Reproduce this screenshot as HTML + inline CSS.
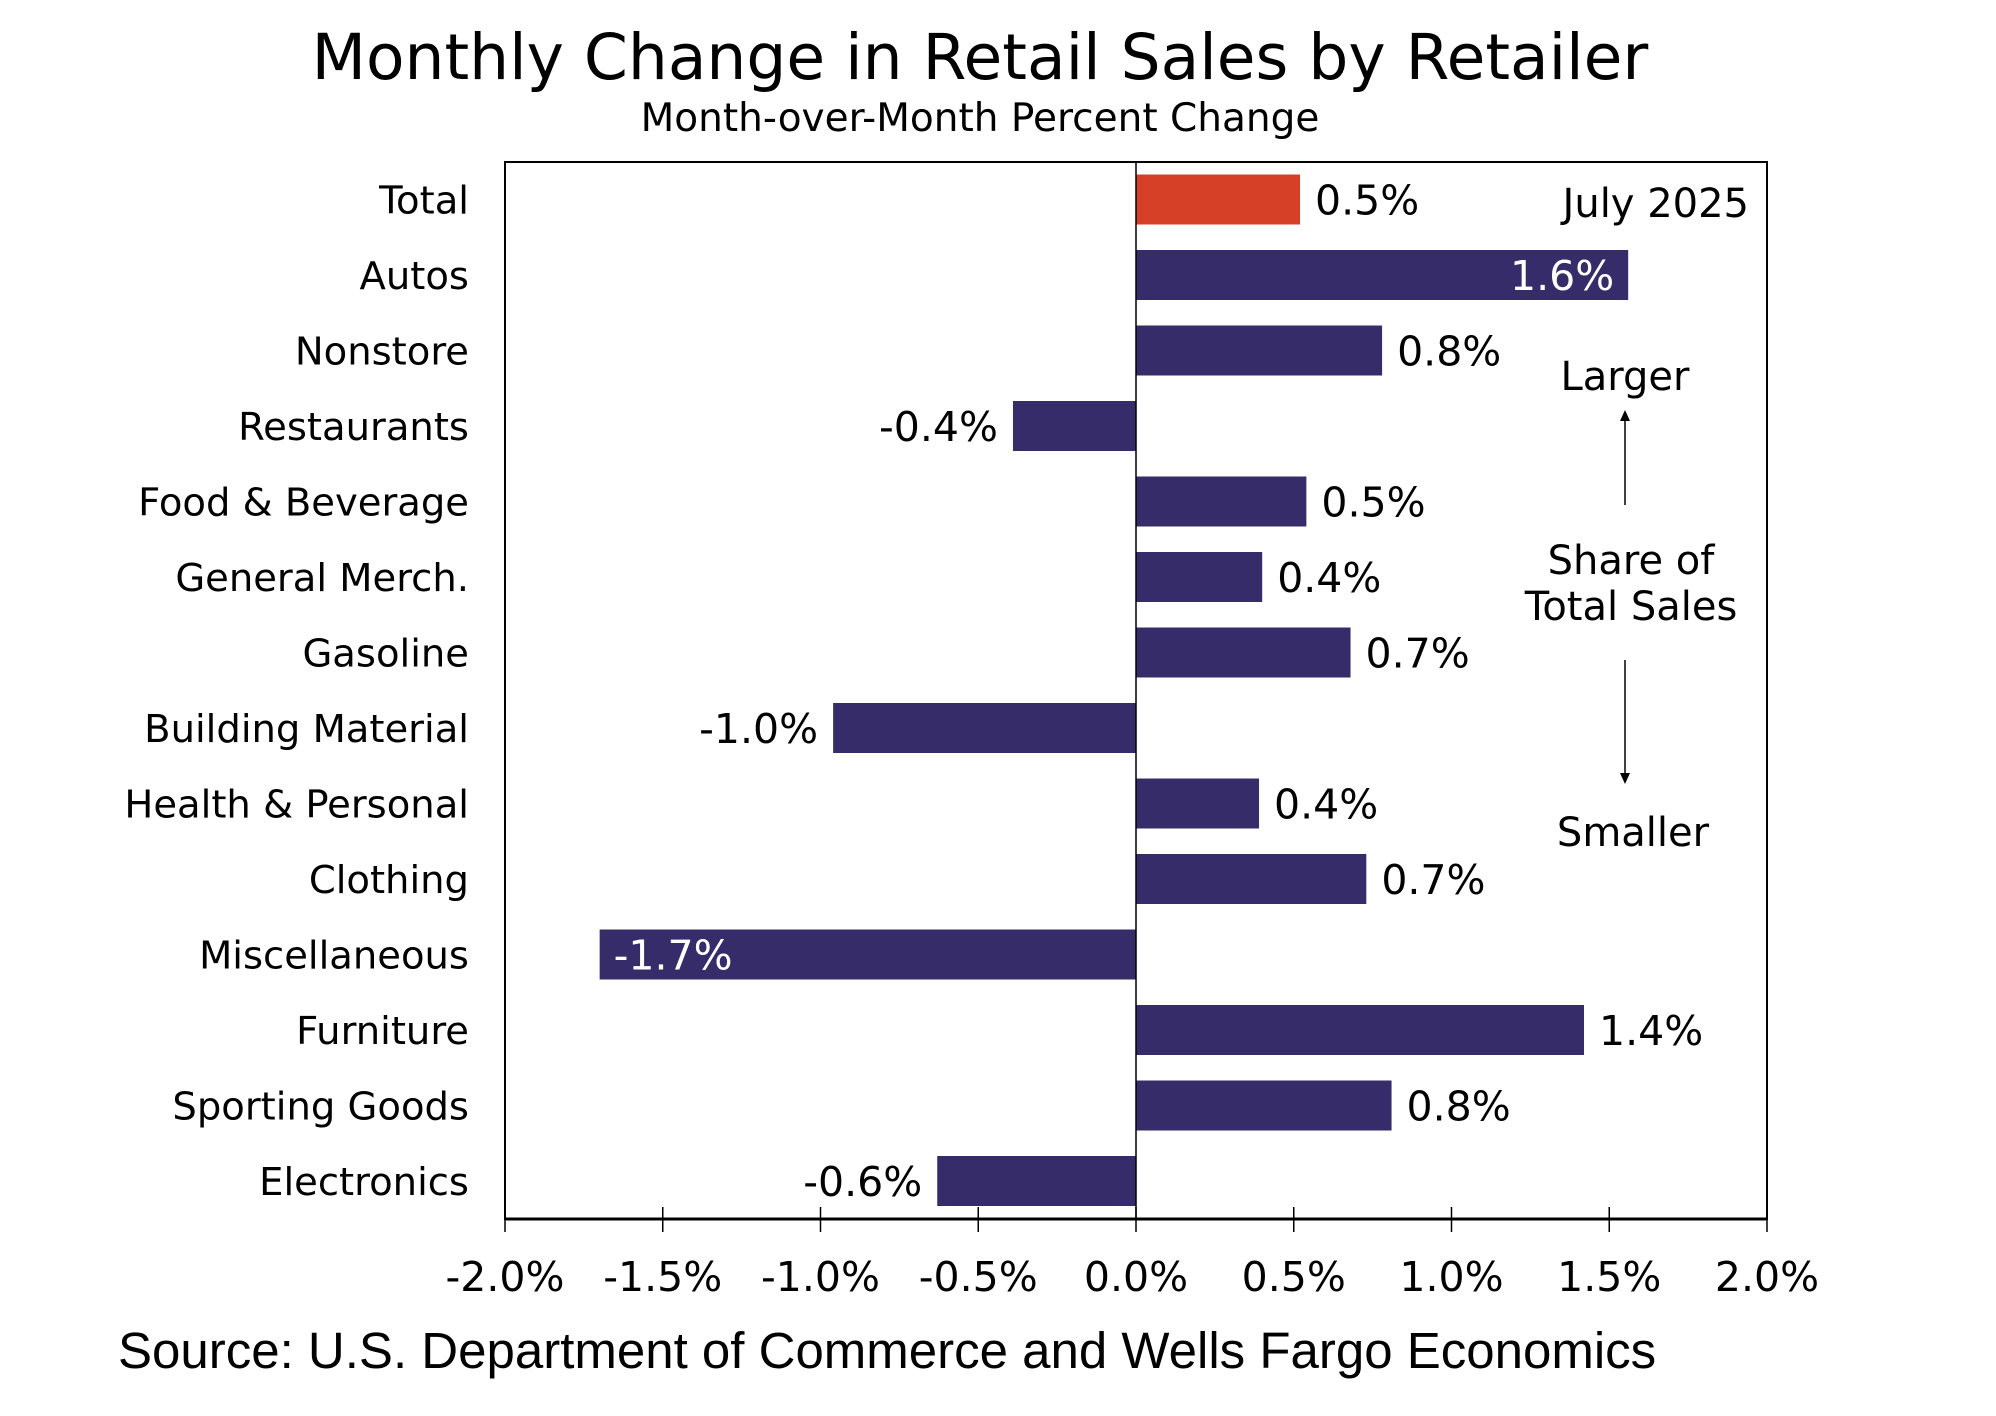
<!DOCTYPE html>
<html><head><meta charset="utf-8"><style>
html,body{margin:0;padding:0;background:#fff;}
svg{display:block;font-family:"DejaVu Sans","Liberation Sans",sans-serif;}
</style></head><body>
<svg id="chart" width="1996" height="1416" viewBox="0 0 1996 1416">
<text x="980" y="79" font-size="63" text-anchor="middle" fill="#000">Monthly Change in Retail Sales by Retailer</text>
<text x="980" y="131" font-size="39" text-anchor="middle" fill="#000">Month-over-Month Percent Change</text>
<rect x="505" y="162" width="1262" height="1057" fill="none" stroke="#000" stroke-width="2"/>
<g id="bars"></g>
<g id="axis"></g>
<text x="1749" y="217" font-size="40" text-anchor="end">July 2025</text>
<text x="1625" y="390" font-size="40" text-anchor="middle">Larger</text>
<line x1="1625" y1="505" x2="1625" y2="418" stroke="#000" stroke-width="1.5"/>
<polygon points="1625,410 1620,421 1630,421" fill="#000"/>
<text x="1631" y="574" font-size="40" text-anchor="middle">Share of</text>
<text x="1631" y="620" font-size="40" text-anchor="middle">Total Sales</text>
<line x1="1625" y1="660" x2="1625" y2="776" stroke="#000" stroke-width="1.5"/>
<polygon points="1625,784 1620,773 1630,773" fill="#000"/>
<text x="1633" y="846" font-size="40" text-anchor="middle">Smaller</text>
<text x="118" y="1368" font-size="51" font-family="Liberation Sans, sans-serif">Source: U.S. Department of Commerce and Wells Fargo Economics</text>
</svg>
<script>
const categories = ["Total","Autos","Nonstore","Restaurants","Food & Beverage","General Merch.","Gasoline","Building Material","Health & Personal","Clothing","Miscellaneous","Furniture","Sporting Goods","Electronics"];
const values = [0.52,1.56,0.78,-0.39,0.54,0.40,0.68,-0.96,0.39,0.73,-1.70,1.42,0.81,-0.63];
const valueLabels = ["0.5%","1.6%","0.8%","-0.4%","0.5%","0.4%","0.7%","-1.0%","0.4%","0.7%","-1.7%","1.4%","0.8%","-0.6%"];
const insideLabel = [false,true,false,false,false,false,false,false,false,false,true,false,false,false];
const ticks = [-2.0,-1.5,-1.0,-0.5,0.0,0.5,1.0,1.5,2.0];
const tickLabels = ["-2.0%","-1.5%","-1.0%","-0.5%","0.0%","0.5%","1.0%","1.5%","2.0%"];

const NS="http://www.w3.org/2000/svg";
const xMin=-2, xMax=2, left=505, right=1767;
const x = v => left + (v - xMin) / (xMax - xMin) * (right - left);
const firstCenter=199.5, rowStep=75.5, barH=50;
const y = i => firstCenter + i*rowStep;
function mk(tag, attrs, parent){const e=document.createElementNS(NS,tag);for(const k in attrs)e.setAttribute(k,attrs[k]);parent.appendChild(e);return e;}
const gb=document.getElementById('bars'), ga=document.getElementById('axis');
categories.forEach((c,i)=>{
  const v=values[i], cy=y(i);
  const r=mk('rect',{x:Math.min(x(0),x(v)),y:cy-barH/2,width:Math.abs(x(v)-x(0)),height:barH,fill:i===0?'#D64027':'#372C6A'},gb);
  
  
  const cl=mk('text',{x:469,y:cy+14,'font-size':38.5,'text-anchor':'end',fill:'#000'},gb);
  cl.textContent=c;
  
  
  let lx, anchor, fill='#000';
  if(insideLabel[i]){ fill='#fff'; if(v>0){lx=x(v)-14;anchor='end';} else {lx=x(v)+14;anchor='start';} }
  else if(v>=0){lx=x(v)+15;anchor='start';} else {lx=x(v)-15;anchor='end';}
  const vl=mk('text',{x:lx,y:cy+15,'font-size':41,'text-anchor':anchor,fill:fill},gb);
  vl.textContent=valueLabels[i];
  
  
});
const zl=mk('line',{x1:x(0),y1:162,x2:x(0),y2:1219,stroke:'#000','stroke-width':1.5},ga);


const al=mk('line',{x1:left,y1:1219,x2:right,y2:1219,stroke:'#000','stroke-width':3},ga);


ticks.forEach((t,i)=>{
  const tk=mk('line',{x1:x(t),y1:1207,x2:x(t),y2:1232,stroke:'#000','stroke-width':1.5},ga);
  
  
  const tl=mk('text',{x:x(t),y:1291,'font-size':41,'text-anchor':'middle',fill:'#000'},ga);
  tl.textContent=tickLabels[i];
  
  
});
</script>
</body></html>
